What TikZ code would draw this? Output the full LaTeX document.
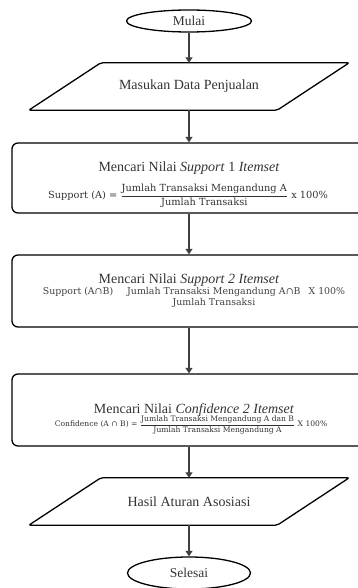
\documentclass[tikz,border=0pt]{standalone}
\usepackage{fontspec}
\usepackage{amsmath}
\setmainfont{Liberation Serif}
\newfontfamily\fml{DejaVu Serif}
\usetikzlibrary{shapes.geometric,arrows.meta,calc}
\begin{document}
\begin{tikzpicture}[x=1pt,y=-1pt,
  term/.style={ellipse,draw,line width=1.3pt,inner sep=0pt,text=black!80,font=\fontsize{13.5}{15}\selectfont},
  iobox/.style={inner sep=0pt,minimum width=248pt,minimum height=47pt,text=black!80,font=\fontsize{14}{16}\selectfont},
  procbox/.style={draw,line width=1.3pt,rounded corners=6pt,minimum width=353pt,inner sep=0pt},
  ttl/.style={inner sep=0pt,text=black!80,font=\fontsize{14}{16}\selectfont},
  fm/.style={inner sep=0pt,text=black!80,font=\fml\fontsize{9.8}{11.5}\selectfont},
  fmb/.style={inner sep=0pt,text=black!75,font=\fml\fontsize{9.4}{11}\selectfont},
  fms/.style={inner sep=0pt,text=black!80,font=\fml\fontsize{7.6}{9}\selectfont},
  arr/.style={draw=black!75,line width=1.1pt,-{Triangle[length=5.5pt,width=7pt]}},
  para/.style={draw,line width=1.3pt,rounded corners=2pt}]
\useasboundingbox (0,0) rectangle (358,588);
\clip (0,0) rectangle (358,588);

% terminals
\node[term,minimum width=125pt,minimum height=22pt] (mulai) at (189,21) {Mulai};
\node[term,minimum width=123pt,minimum height=32pt] (selesai) at (189,573) {Selesai};

% input / output
\node[iobox] (p1) at (189,86.5) {Masukan Data Penjualan};
\draw[para] ($(p1.south west)+(-36,0)$) -- ($(p1.south east)+(-36,0)$) -- ($(p1.north east)+(36,0)$) -- ($(p1.north west)+(36,0)$) -- cycle;
\node[iobox] (p2) at (189,501.5) {Hasil Aturan Asosiasi};
\draw[para] ($(p2.south west)+(-36,0)$) -- ($(p2.south east)+(-36,0)$) -- ($(p2.north east)+(36,0)$) -- ($(p2.north west)+(36,0)$) -- cycle;

% process boxes
\node[procbox,minimum height=70pt] (b1) at (188.5,178) {};
\node[ttl] (t1) at (189,168) {Mencari Nilai \textit{Support} 1 \textit{Itemset}};
\node[fm] (f1) at (188,196) {Support (A) = $\dfrac{\text{Jumlah Transaksi Mengandung A}}{\text{Jumlah Transaksi}}$ x 100\%};

\node[procbox,minimum height=72pt] (b2) at (188.5,291) {};
\node[ttl] (t2) at (189,280) {Mencari Nilai \textit{Support 2 Itemset}};
\node[fmb,anchor=north] (f2) at (194,287) {Support (A∩B)\hspace{14pt}\begin{tabular}[t]{@{}c@{}}Jumlah Transaksi Mengandung A∩B\\Jumlah Transaksi\end{tabular}\hspace{8pt}X 100\%};

\node[procbox,minimum height=72pt] (b3) at (188.5,410) {};
\node[ttl] (t3) at (194,410) {Mencari Nilai \textit{Confidence 2 Itemset}};
\node[fms] (f3) at (191,425) {Confidence (A ∩ B) = $\dfrac{\text{Jumlah Transaksi Mengandung A dan B}}{\text{Jumlah Transaksi Mengandung A}}$ X 100\%};

% connectors
\draw[arr] (mulai.south) -- (mulai.south |- p1.north);
\draw[arr] (p1.south) -- (p1.south |- b1.north);
\draw[arr] (b1.south -| p1.south) -- (p1.south |- b2.north);
\draw[arr] (b2.south -| p1.south) -- (p1.south |- b3.north);
\draw[arr] (b3.south -| p1.south) -- (p2.north);
\draw[arr] (p2.south) -- (selesai.north);
\end{tikzpicture}
\end{document}
